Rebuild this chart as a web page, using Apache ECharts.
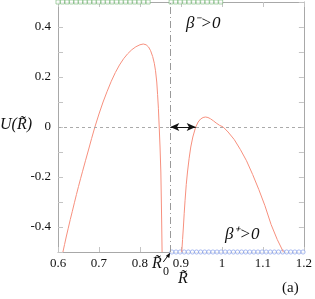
<!DOCTYPE html>
<html><head><meta charset="utf-8">
<script src="https://cdn.jsdelivr.net/npm/echarts@6/dist/echarts.min.js"></script>
<style>html,body{margin:0;padding:0;background:#fff}#c{width:315px;height:299px}</style>
</head><body><div id="c"></div>
<script>
// ---- data ----
var xTicks = [0.6, 0.7, 0.8, 0.9, 1, 1.1, 1.2];
var yTicks = [-0.4, -0.2, 0, 0.2, 0.4];
var R0 = 0.874;
var leftR = [0.612,0.616,0.620,0.625,0.630,0.635,0.640,0.645,0.650,0.655,0.660,0.667,0.675,0.682,0.690,0.700,0.710,0.720,0.730,0.740,0.750,0.760,0.770,0.780,0.790,0.800,0.808,0.815,0.821,0.826,0.831,0.835,0.838,0.841,0.843,0.845,0.847,0.849,0.851,0.852,0.853,0.854];
var leftU = [-0.5,-0.47,-0.44,-0.405,-0.37,-0.337,-0.303,-0.27,-0.238,-0.207,-0.177,-0.135,-0.088,-0.046,0.0,0.052,0.100,0.143,0.183,0.218,0.248,0.273,0.293,0.309,0.321,0.329,0.332,0.329,0.320,0.305,0.282,0.255,0.225,0.180,0.130,0.075,0.0,-0.08,-0.18,-0.28,-0.38,-0.5];
var rightR = [0.902,0.904,0.906,0.908,0.910,0.913,0.916,0.920,0.924,0.929,0.936,0.942,0.948,0.954,0.960,0.966,0.972,0.979,0.986,0.994,1.003,1.015,1.030,1.045,1.060,1.075,1.090,1.105,1.120,1.135,1.150];
var rightU = [-0.5,-0.45,-0.40,-0.345,-0.295,-0.23,-0.18,-0.125,-0.08,-0.04,0.0,0.02,0.032,0.038,0.04,0.038,0.033,0.025,0.016,0.007,0.0,-0.02,-0.05,-0.09,-0.135,-0.19,-0.25,-0.315,-0.39,-0.45,-0.5];
var betaMinusR = [0.600,0.611,0.622,0.633,0.644,0.655,0.666,0.677,0.688,0.699,0.710,0.721,0.732,0.743,0.754,0.765,0.776,0.787,0.798,0.809,0.820,
                  0.876,0.887,0.898,0.909,0.920,0.931,0.942,0.953,0.964,0.975,0.986,0.997];
var betaPlusR = [0.878,0.888,0.898,0.908,0.918,0.928,0.938,0.948,0.958,0.968,0.978,0.988,0.998,1.008,1.018,1.028,1.038,1.048,1.058,1.068,1.078,1.088,1.098,1.108,1.118,1.128,1.138,1.148,1.158,1.168,1.178,1.188,1.198];
var arrowEnd = 0.936;
var yMin = -0.5, yMax = 0.5;

function zip(a, b){ return a.map(function(v,i){ return [v, b[i]]; }); }
var serif = 'Liberation Serif';
var axisCol = '#a8a8a8';
var chart = echarts.init(document.getElementById('c'));
var tickFn = function(i){ return i % 2 === 1; };
var commonX = {type:'value', min:0.6, max:1.2, interval:0.1, splitLine:{show:false},
  axisLine:{onZero:false, lineStyle:{color:axisCol}}, axisTick:{inside:true,length:5,lineStyle:{color:'#c4c4c4'}}};
var commonY = {type:'value', min:yMin, max:yMax, interval:0.1, splitLine:{show:false},
  axisLine:{onZero:false, lineStyle:{color:axisCol}}, axisTick:{inside:true,length:5,interval:tickFn,lineStyle:{color:'#c4c4c4'}}};
function lbl(v){ return Math.round(v*10)/10; }
chart.setOption({
  animation:false,
  grid:{left:58, right:7, top:2, bottom:47},
  xAxis:[
    Object.assign({}, commonX, {position:'bottom',
      axisLabel:{margin:5, fontFamily:serif, fontSize:13, color:'#111',
        formatter:function(v){ var r=lbl(v); return xTicks.indexOf(r)>=0 ? String(r) : ''; }}}),
    Object.assign({}, commonX, {position:'top', axisLabel:{show:false}})
  ],
  yAxis:[
    Object.assign({}, commonY, {position:'left',
      axisLabel:{margin:7, fontFamily:serif, fontSize:13, color:'#111', interval:0,
        formatter:function(v){ var r=lbl(v); return yTicks.indexOf(r)>=0 ? String(r) : ''; }}}),
    Object.assign({}, commonY, {position:'right', axisLabel:{show:false}})
  ],
  series:[
    {type:'line', data:[], markLine:{silent:true, symbol:'none', label:{show:false},
      lineStyle:{type:[3,3], color:'#aaa', width:1}, data:[[{coord:[0.6,0]}, {coord:[1.2,0]}]]}},
    {type:'line', data:[], markLine:{silent:true, symbol:'none', label:{show:false},
      lineStyle:{type:[7,3,1,3], color:'#999', width:1}, data:[[{coord:[R0,yMin]}, {coord:[R0,yMax]}]]}},
    {type:'line', data:zip(leftR,leftU), smooth:false, showSymbol:false, lineStyle:{color:'#f7907e', width:1}},
    {type:'line', data:zip(rightR,rightU), smooth:false, showSymbol:false, lineStyle:{color:'#f7907e', width:1}},
    {type:'line', data:[], markLine:{silent:true, symbol:['arrow','arrow'], symbolSize:[6,9], label:{show:false},
      lineStyle:{type:'solid', color:'#111', width:1}, data:[[{coord:[R0,0]}, {coord:[arrowEnd,0]}]]}},
    {type:'scatter', data:betaMinusR.map(function(r){return [r, yMax];}), symbol:'rect', symbolSize:4,
      itemStyle:{color:'#fff', borderColor:'#78b878', borderWidth:0.8}, clip:false},
    {type:'scatter', data:betaPlusR.map(function(r){return [r, yMin];}), symbol:'circle', symbolSize:4.2,
      itemStyle:{color:'#fff', borderColor:'#7b95e8', borderWidth:0.8}, clip:false}
  ]
});

var tip = chart.convertToPixel({xAxisIndex:0, yAxisIndex:0}, [R0, yMin]);
var txt = function(x,y,t,size){ return {type:'text', x:x, y:y, style:{text:t, font:'italic '+size+'px "'+serif+'"', fill:'#111'}}; };
chart.setOption({graphic:[
  txt(0, 117, 'U(R\u0303)', 16),
  txt(186, 15, '\u03b2\u207b>0', 17),
  txt(225, 226, '\u03b2\u207a>0', 17),
  txt(152, 256, 'R\u0303', 16),
  {type:'text', x:163, y:266, style:{text:'0', font:'12px "'+serif+'"', fill:'#111'}},
  txt(178, 271, 'R\u0303', 16),
  {type:'text', x:282, y:281, style:{text:'(a)', font:'15px "'+serif+'"', fill:'#111'}},
  {type:'line', shape:{x1:tip[0]-7, y1:tip[1]+10, x2:tip[0]-1, y2:tip[1]+2}, style:{stroke:'#111', lineWidth:1}},
  {type:'polygon', shape:{points:[[tip[0],tip[1]+0.5],[tip[0]-4.5,tip[1]+4],[tip[0]-1,tip[1]+6]]}, style:{fill:'#111'}}
]});
</script></body></html>
